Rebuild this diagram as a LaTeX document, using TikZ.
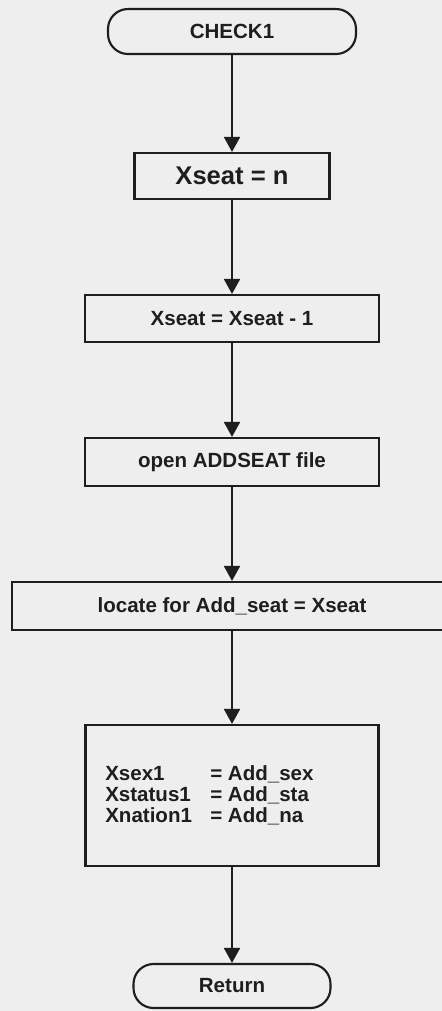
\documentclass[tikz,border=0pt]{standalone}
\usepackage{fontspec}
\setmainfont{Liberation Sans}
\usetikzlibrary{arrows.meta}
\definecolor{bgc}{RGB}{238,238,238}
\definecolor{ink}{RGB}{30,30,30}
\begin{document}
\begin{tikzpicture}[x=0.75pt,y=-0.75pt,
  base/.style={draw=ink,line width=1.6pt,text=ink,inner sep=0pt,
    font=\bfseries\fontsize{15.4pt}{15.4pt}\selectfont},
  procbox/.style={base,rectangle},
  term/.style={base,rectangle,rounded corners=15pt},
  conn/.style={draw=ink,line width=1.5pt,-{Triangle[length=11.25pt,width=12pt]}}]
\useasboundingbox (0,0) rectangle (442,1011);
\fill[bgc] (0,0) rectangle (442,1011);
\node[term,minimum width=186pt,minimum height=33.75pt] (check) at (232,31.5) {CHECK1};
\node[procbox,minimum width=146.25pt,minimum height=34.5pt,
  font=\bfseries\fontsize{19.2pt}{19.2pt}\selectfont] (xn) at (232,176) {Xseat = n};
\node[procbox,minimum width=220.5pt,minimum height=35.25pt] (xm) at (232,318.5) {Xseat = Xseat - 1};
\node[procbox,minimum width=220.5pt,minimum height=36pt] (open) at (232,462) {open ADDSEAT file};
\node[procbox,minimum width=330pt,minimum height=36pt] (loc) at (232,606) {locate for Add\_seat = Xseat};
\node[procbox,minimum width=219.75pt,minimum height=105.75pt] (big) at (232,795.5) {};
\node[anchor=base west,inner sep=0pt,text=ink,font=\bfseries\fontsize{15.4pt}{15.4pt}\selectfont] (assign) at (105,780)
  {\begin{tabular}[t]{@{}l@{}l@{}}
   \makebox[78.75pt][l]{Xsex1} & = Add\_sex\\
   \makebox[78.75pt][l]{Xstatus1} & = Add\_sta\\
   \makebox[78.75pt][l]{Xnation1} & = Add\_na
   \end{tabular}};
\node[term,minimum width=147.75pt,minimum height=33pt] (ret) at (232,986) {Return};
\draw[conn] (check) -- (xn);
\draw[conn] (xn) -- (xm);
\draw[conn] (xm) -- (open);
\draw[conn] (open) -- (loc);
\draw[conn] (loc) -- (big);
\draw[conn] (big) -- (ret);
\end{tikzpicture}
\end{document}
